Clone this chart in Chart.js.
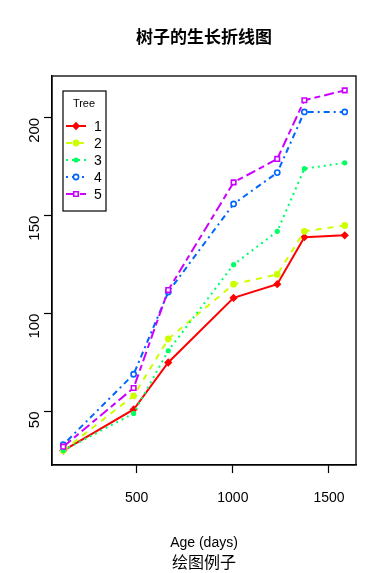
<!DOCTYPE html>
<html><head><meta charset="utf-8">
<script src="https://cdn.jsdelivr.net/npm/chart.js@4/dist/chart.umd.min.js"></script>
<style>html,body{margin:0;padding:0;background:#fff}#wrap{width:380px;height:573px}</style>
</head><body><div id="wrap"><canvas id="c" width="380" height="573"></canvas></div>
<script>
const ages = [118, 484, 664, 1004, 1231, 1372, 1582];
const treeLabels = ["1", "2", "3", "4", "5"];
const tree1 = [30, 51, 75, 108, 115, 139, 140];
const tree2 = [30, 58, 87, 115, 120, 142, 145];
const tree3 = [30, 49, 81, 125, 142, 174, 177];
const tree4 = [33, 69, 111, 156, 172, 203, 203];
const tree5 = [32, 62, 112, 167, 179, 209, 214];
const xTicks = [500, 1000, 1500];
const yTicks = [50, 100, 150, 200];
const titleText = "树子的生长折线图";
const xTitle = "Age (days)";
const subTitle = "绘图例子";
const legendTitle = "Tree";

const colors = ["#FF0000", "#CCFF00", "#00FF66", "#0066FF", "#CC00FF"];
const dashes = [[], [6, 6], [2, 4], [2, 4, 6, 4], [10, 4, 6, 4]];
const pstyles = ["rectRot", "circle", "circle", "circle", "rect"];
const pradius = [3, 2.6, 1.8, 2.6, 3.2];
const pfill = [true, true, true, false, false];
const series = [tree1, tree2, tree3, tree4, tree5];

const datasets = series.map((s, i) => ({
  label: treeLabels[i],
  data: s.map((v, j) => ({x: ages[j], y: v})),
  borderColor: colors[i],
  borderWidth: 2,
  borderDash: dashes[i],
  pointStyle: pstyles[i],
  pointRadius: pradius[i],
  pointBorderWidth: 1.6,
  pointBorderColor: colors[i],
  pointBackgroundColor: pfill[i] ? colors[i] : "#ffffff",
  tension: 0,
  order: 4 - i
}));

const xmin = 118 - 0.04 * (1582 - 118), xmax = 1582 + 0.04 * (1582 - 118);
const ymin = 30 - 0.04 * 184, ymax = 214 + 0.04 * 184;

const deco = {
  id: "deco",
  afterDraw(chart) {
    const ctx = chart.ctx, a = chart.chartArea;
    ctx.save();
    ctx.strokeStyle = "#000"; ctx.lineWidth = 1.3; ctx.setLineDash([]);
    ctx.strokeRect(a.left, a.top, a.right - a.left, a.bottom - a.top);
    ctx.fillStyle = "#000";
    ctx.textAlign = "center"; ctx.textBaseline = "middle";
    ctx.font = "bold 17px 'Noto Sans CJK SC'";
    ctx.fillText(titleText, 204, 37);
    ctx.font = "14px 'Liberation Sans', Arial";
    ctx.fillText(xTitle, 204, 543);
    ctx.font = "16px 'Noto Sans CJK SC'";
    ctx.fillText(subTitle, 204, 562);
    // legend
    const lx = 63, ly = 91, lw = 43, lh = 120;
    ctx.fillStyle = "#fff"; ctx.fillRect(lx, ly, lw, lh);
    ctx.strokeStyle = "#000"; ctx.lineWidth = 1.2; ctx.strokeRect(lx, ly, lw, lh);
    ctx.fillStyle = "#000";
    ctx.font = "11px 'Liberation Sans', Arial";
    ctx.fillText(legendTitle, 84, 104);
    const rows = [126, 143, 160, 177, 194];
    rows.forEach((y, i) => {
      ctx.strokeStyle = colors[i]; ctx.lineWidth = 2; ctx.setLineDash(dashes[i]);
      ctx.beginPath(); ctx.moveTo(66, y); ctx.lineTo(86, y); ctx.stroke();
      ctx.setLineDash([]);
      ctx.beginPath();
      Chart.helpers.drawPoint(ctx, {pointStyle: pstyles[i], radius: pradius[i]}, 76, y);
      ctx.fillStyle = pfill[i] ? colors[i] : "#fff";
      ctx.fill();
      ctx.strokeStyle = colors[i]; ctx.lineWidth = 1.6; ctx.stroke();
      ctx.fillStyle = "#000"; ctx.textAlign = "left";
      ctx.font = "14px 'Liberation Sans', Arial";
      ctx.fillText(treeLabels[i], 94, y + 1);
      ctx.textAlign = "center";
    });
    ctx.restore();
  }
};

new Chart(document.getElementById("c"), {
  type: "line",
  data: {datasets},
  options: {
    responsive: false,
    animation: false,
    devicePixelRatio: 1,
    layout: {padding: {left: 0, right: 24, top: 76, bottom: 0}},
    plugins: {legend: {display: false}, tooltip: {enabled: false}},
    scales: {
      x: {
        type: "linear", min: xmin, max: xmax,
        afterBuildTicks: s => { s.ticks = xTicks.map(v => ({value: v})); },
        afterFit: s => { s.height = 108; },
        grid: {drawOnChartArea: false, tickLength: 8, color: "#000", tickWidth: 1.2},
        border: {display: true, color: "#000", width: 1.3},
        ticks: {color: "#000", font: {size: 14, family: "'Liberation Sans', Arial"}, padding: 17, maxRotation: 0, minRotation: 0, callback: v => String(v)}
      },
      y: {
        type: "linear", min: ymin, max: ymax,
        afterBuildTicks: s => { s.ticks = yTicks.map(v => ({value: v})); },
        afterFit: s => { s.width = 52; },
        grid: {drawOnChartArea: false, tickLength: 8, color: "#000", tickWidth: 1.2},
        border: {display: true, color: "#000", width: 1.3},
        ticks: {color: "#000", font: {size: 15, family: "'Liberation Sans', Arial"}, padding: 9, minRotation: 90, maxRotation: 90, callback: v => String(v)}
      }
    }
  },
  plugins: [deco]
});
</script>
</body></html>
